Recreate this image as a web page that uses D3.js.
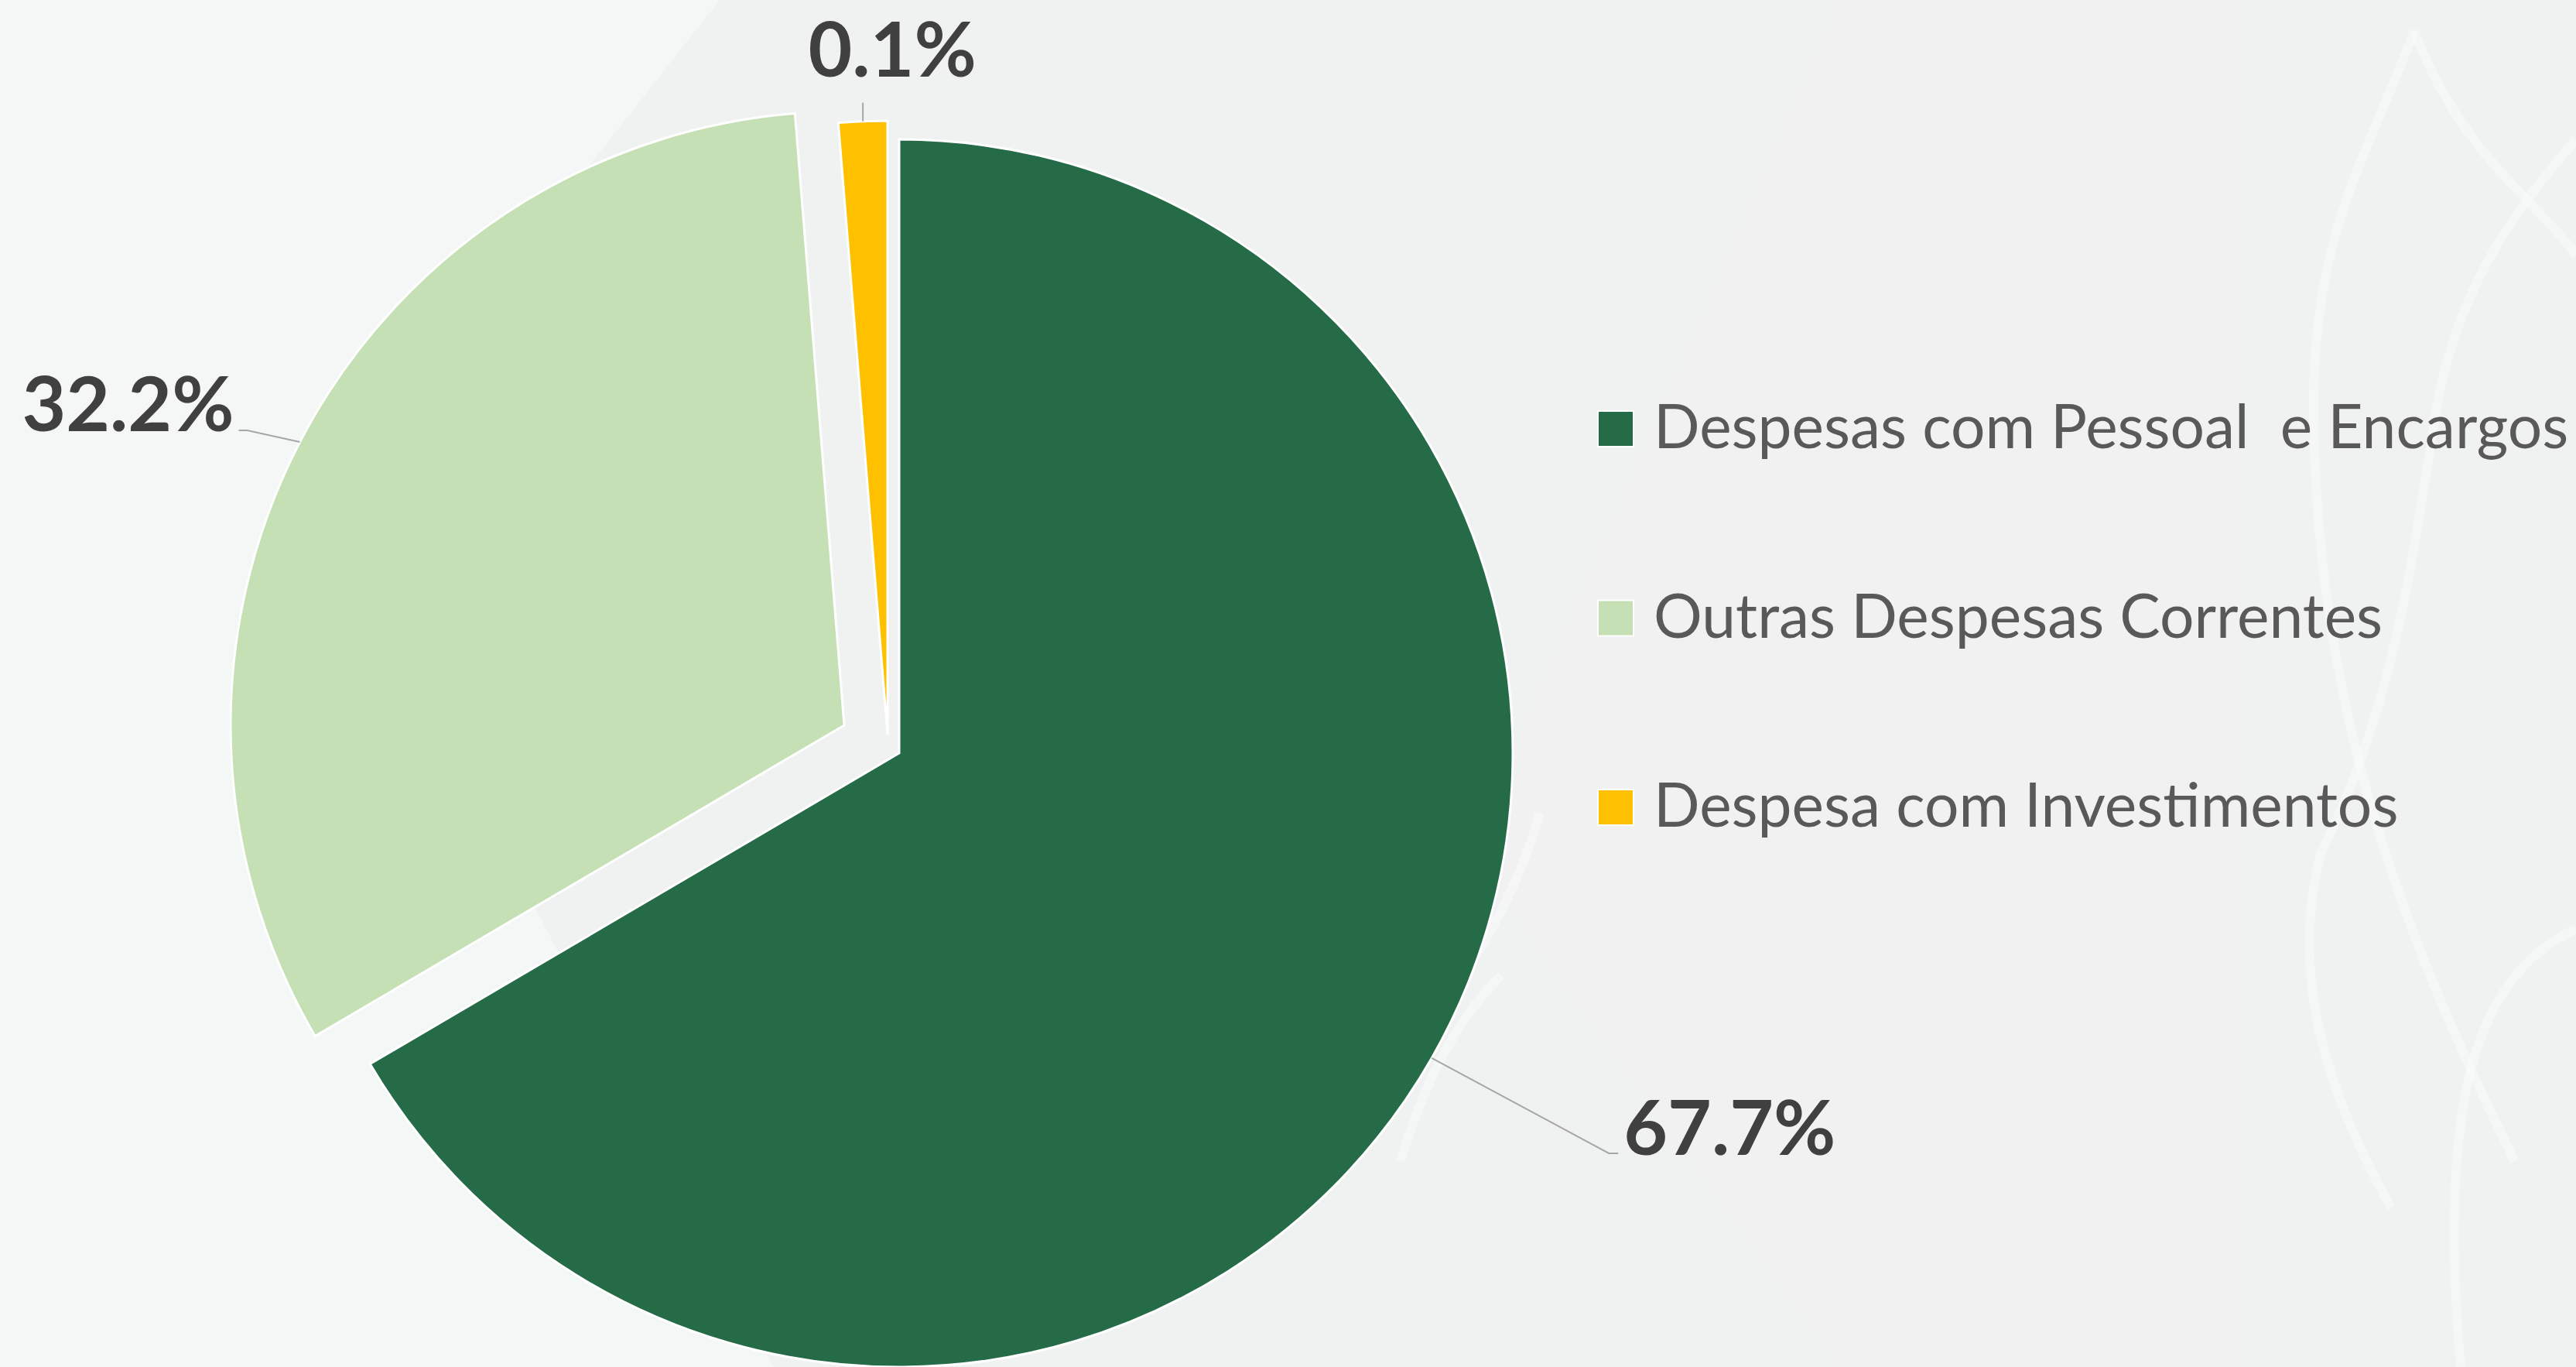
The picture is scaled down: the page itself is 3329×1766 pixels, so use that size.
<!DOCTYPE html>
<html>
<head>
<meta charset="utf-8">
<script src="https://cdn.jsdelivr.net/npm/d3@7"></script>
<style>
  html, body { margin: 0; padding: 0; background: #F0F2F1; }
  svg { display: block; }
  text { white-space: pre; }
</style>
</head>
<body>
<svg id="chart" width="3329" height="1766"></svg>
<script>
// ---- data (shares as drawn in the picture, and the printed labels) ----
const categories = ["Despesas com Pessoal  e Encargos", "Outras Despesas Correntes", "Despesa com Investimentos"];
const values = [66.55, 32.17, 1.28];
const labels = ["67.7%", "32.2%", "0.1%"];

// ---- style ----
const colors = ["#256B48", "#C5E0B4", "#FFC000"];
const W = 3329, H = 1766;
const center = [1162, 973];
const R = 793;
const explode = [[0, 0], [-71, -36], [-15, -24]];        // slice offsets (px)
const labelBend = [[229, 123], [-68, -15], [0, -24]];    // leader bend relative to edge point
const labelStub = [12, -11, 0];

const svg = d3.select("#chart");

// background
const bg = svg.append("g");
bg.append("rect").attr("width", W).attr("height", H).attr("fill", "#F0F2F1");
bg.append("path").attr("d", "M0,0 L930,0 L0,1180 Z").attr("fill", "#F5F7F6");
bg.append("path").attr("d", "M0,1766 L0,1150 L420,650 L1000,1766 Z").attr("fill", "#F4F7F6").attr("opacity", 0.8);
bg.append("path").attr("d", "M2380,0 L1900,1100 L2380,1766 L2900,1766 L2900,0 Z").attr("fill", "#EFF1F0").attr("opacity", 0.7);
const curves = [
  "M3120,40 C3060,200 2990,300 2990,520 C2990,900 3100,1200 3250,1500",
  "M3120,40 C3180,200 3280,260 3329,330",
  "M3329,180 C3260,260 3180,360 3150,520 C3120,700 3100,900 3000,1100",
  "M3000,1100 C2960,1250 3000,1400 3090,1560",
  "M3329,1200 C3200,1260 3150,1420 3180,1766",
  "M1990,1050 C1960,1160 1900,1250 1850,1320",
  "M1940,1260 C1880,1320 1840,1400 1810,1500"
];
bg.selectAll("path.curve").data(curves).enter().append("path")
  .attr("class", "curve").attr("d", d => d)
  .attr("fill", "none").attr("stroke", "#FFFFFF").attr("stroke-width", 12).attr("opacity", 0.35);

// pie
const pie = d3.pie().sort(null).value(d => d)(values);
const arc = d3.arc().innerRadius(0).outerRadius(R);

const g = svg.append("g").attr("transform", `translate(${center[0]},${center[1]})`);
g.selectAll("path.slice").data(pie).enter().append("path")
  .attr("class", "slice")
  .attr("transform", (d, i) => `translate(${explode[i][0]},${explode[i][1]})`)
  .attr("d", arc)
  .attr("fill", (d, i) => colors[i])
  .attr("stroke", "#FFFFFF")
  .attr("stroke-width", 3)
  .attr("stroke-linejoin", "miter");

// data labels with leader lines
const lblFont = "Lato, 'Open Sans', sans-serif";
pie.forEach((d, i) => {
  const mid = (d.startAngle + d.endAngle) / 2;
  const sx = explode[i][0] + R * Math.sin(mid);
  const sy = explode[i][1] - R * Math.cos(mid);
  const bx = sx + labelBend[i][0], by = sy + labelBend[i][1];
  const ex = bx + labelStub[i], ey = by;
  g.append("polyline")
    .attr("points", `${sx},${sy} ${bx},${by} ${ex},${ey}`)
    .attr("fill", "none").attr("stroke", "#A6A6A6").attr("stroke-width", 2);
  const t = g.append("text")
    .attr("font-family", lblFont).attr("font-weight", 700)
    .attr("font-size", 98).attr("fill", "#404040")
    .text(labels[i]);
  if (i === 0) t.attr("x", ex + 7).attr("y", ey + 2).attr("text-anchor", "start");
  else if (i === 1) t.attr("x", ex - 6).attr("y", ey + 1).attr("text-anchor", "end");
  else t.attr("x", ex + 38).attr("y", ey - 34).attr("text-anchor", "middle");
});

// legend
const legend = svg.append("g").attr("transform", "translate(2065,554)");
const rowGap = 244.5;
const items = legend.selectAll("g.item").data(categories).enter().append("g")
  .attr("class", "item").attr("transform", (d, i) => `translate(0,${i * rowGap})`);
items.append("rect").attr("x", 0).attr("y", -23).attr("width", 46).attr("height", 46)
  .attr("fill", (d, i) => colors[i]).attr("stroke", "#FFFFFF").attr("stroke-width", 2);
items.append("text").attr("x", 72).attr("y", 25)
  .attr("font-family", "Lato, 'Open Sans', sans-serif").attr("font-size", 78.5)
  .attr("fill", "#595959").text(d => d);
</script>
</body>
</html>
